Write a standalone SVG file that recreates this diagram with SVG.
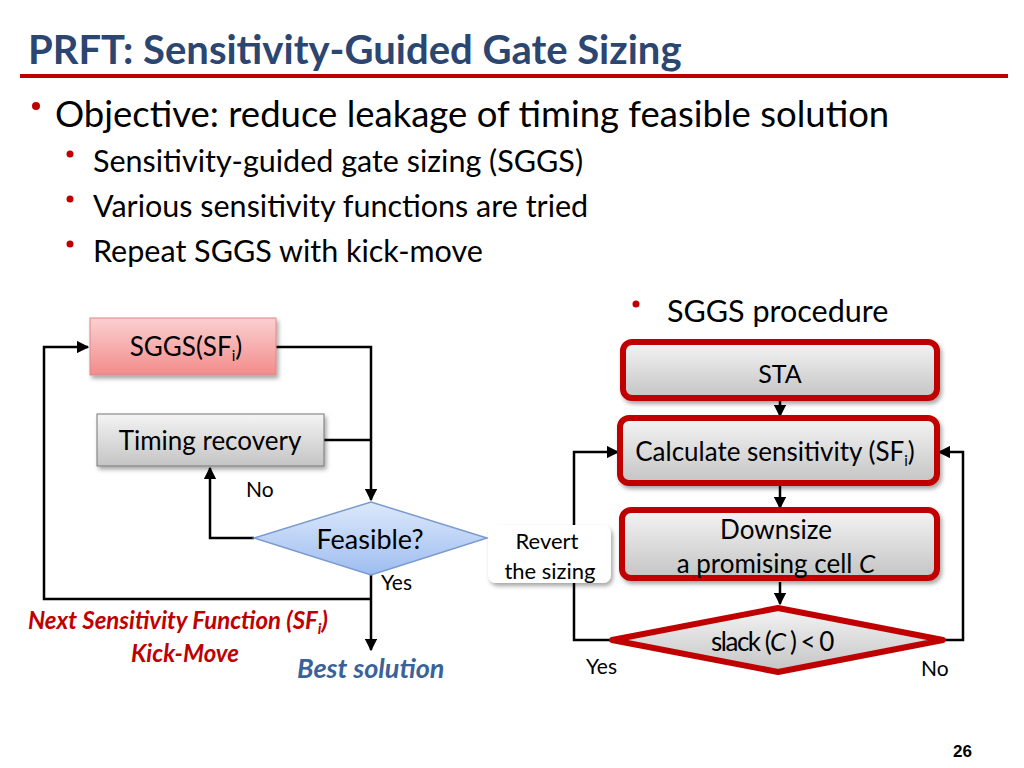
<svg xmlns="http://www.w3.org/2000/svg" width="1024" height="768" viewBox="0 0 1024 768">
<defs>
<linearGradient id="pink" x1="0" y1="0" x2="0" y2="1"><stop offset="0" stop-color="#fbd0d0"/><stop offset="1" stop-color="#f28b8b"/></linearGradient>
<linearGradient id="gray" x1="0" y1="0" x2="0" y2="1"><stop offset="0" stop-color="#f4f4f4"/><stop offset="1" stop-color="#c4c4c4"/></linearGradient>
<linearGradient id="blue" x1="0" y1="0" x2="0" y2="1"><stop offset="0" stop-color="#dde9fb"/><stop offset="1" stop-color="#9dbdf0"/></linearGradient>
<marker id="ar" viewBox="0 0 10 10" refX="9" refY="5" markerWidth="5" markerHeight="5" orient="auto"><path d="M0,0 L10,5 L0,10 z" fill="#000"/></marker>
<filter id="sh" x="-10%" y="-10%" width="130%" height="140%"><feDropShadow dx="2" dy="3" stdDeviation="2" flood-opacity="0.35"/></filter>
</defs>
<style>
text{font-family:Lato,"Open Sans","Liberation Sans",sans-serif;fill:#000}
.c{stroke:#000;stroke-width:2.5;fill:none}
.r{stroke:#c00000;stroke-width:6}
.lbl{font-size:21px}
.b{fill:#c00000}
</style>
<rect width="1024" height="768" fill="#fff"/>
<text x="28" y="64" font-size="40" font-weight="bold" style="fill:#2b4670">PRFT: Sensitivity-Guided Gate Sizing</text>
<rect x="20" y="74" width="988" height="4" fill="#c00000"/>
<circle cx="36" cy="106" r="4" fill="#c00000"/>
<text x="55" y="127" font-size="36.5">Objective: reduce leakage of timing feasible solution</text>
<g font-size="30.5">
<circle cx="70" cy="154" r="3.5" fill="#c00000"/><text x="93" y="172">Sensitivity-guided gate sizing (SGGS)</text>
<circle cx="70" cy="199" r="3.5" fill="#c00000"/><text x="93" y="217">Various sensitivity functions are tried</text>
<circle cx="70" cy="244" r="3.5" fill="#c00000"/><text x="93" y="262">Repeat SGGS with kick-move</text>
<circle cx="636" cy="304" r="3.5" fill="#c00000"/><text x="667" y="322">SGGS procedure</text>
</g>
<g id="connectors">
<polyline class="c" points="276,347 371,347 371,500" marker-end="url(#ar)"/>
<line class="c" x1="324" y1="440" x2="371" y2="440"/>
<polyline class="c" points="254,538 210,538 210,468" marker-end="url(#ar)"/>
<line class="c" x1="371" y1="575" x2="371" y2="650" marker-end="url(#ar)"/>
<polyline class="c" points="371,599 44,599 44,347 88,347" marker-end="url(#ar)"/>
<line class="c" x1="780" y1="400" x2="780" y2="416" marker-end="url(#ar)"/>
<line class="c" x1="780" y1="485" x2="780" y2="508" marker-end="url(#ar)"/>
<line class="c" x1="780" y1="582" x2="780" y2="604" marker-end="url(#ar)"/>
<polyline class="c" points="612,640 574,640 574,452 618,452" marker-end="url(#ar)"/>
<polyline class="c" points="943,640 963,640 963,452 939,452" marker-end="url(#ar)"/>
</g>
<g id="sggs"><rect x="90" y="318" width="186" height="57" fill="url(#pink)" stroke="#d88" filter="url(#sh)"/><text x="186" y="356" font-size="26" text-anchor="middle">SGGS(SF<tspan font-size="15" dy="5">i</tspan><tspan dy="-5">)</tspan></text></g>
<g id="timing"><rect x="97" y="414" width="227" height="52" fill="url(#gray)" stroke="#777" filter="url(#sh)"/><text x="210" y="450" font-size="26" text-anchor="middle">Timing recovery</text></g>
<g id="feasible"><polygon points="254,538 371,502 487,538 371,575" fill="url(#blue)" stroke="#7a9ad0" stroke-width="1.5"/><text x="370" y="549" font-size="27" text-anchor="middle">Feasible?</text></g>
<text x="246" y="497" class="lbl">No</text>
<text x="381" y="590" class="lbl">Yes</text>
<text x="28" y="629" font-size="24" font-weight="bold" font-style="italic" class="b">Next Sensitivity Function (SF<tspan font-size="15" dy="5">i</tspan><tspan dy="-5">)</tspan></text>
<text x="185" y="662" font-size="24" font-weight="bold" font-style="italic" text-anchor="middle" class="b">Kick-Move</text>
<text x="297" y="678" font-size="27" font-weight="bold" font-style="italic" style="fill:#3a629a">Best solution</text>
<g id="sta"><rect x="623" y="342" width="314" height="56" rx="9" fill="url(#gray)" class="r" filter="url(#sh)"/><text x="780" y="383" font-size="25" text-anchor="middle">STA</text></g>
<g id="calc"><rect x="620" y="418" width="317" height="65" rx="9" fill="url(#gray)" class="r" filter="url(#sh)"/><text x="775" y="461" font-size="26" text-anchor="middle">Calculate sensitivity (SF<tspan font-size="15" dy="5">i</tspan><tspan dy="-5">)</tspan></text></g>
<g id="downsize"><rect x="622" y="510" width="315" height="68" rx="9" fill="url(#gray)" class="r" filter="url(#sh)"/><text x="776" y="539" font-size="26" text-anchor="middle">Downsize</text><text x="776" y="573" font-size="26" text-anchor="middle">a promising cell <tspan font-style="italic">C</tspan></text></g>
<g id="slack"><polygon points="612,640 778,608 943,640 778,672" fill="url(#gray)" class="r" stroke-linejoin="round"/><text x="772" y="651" font-size="26" text-anchor="middle" letter-spacing="-1.5">slack (<tspan font-style="italic">C</tspan> ) &lt; 0</text></g>
<g id="revert"><rect x="488" y="525" width="123" height="58" rx="8" fill="#fff" filter="url(#sh)"/><text x="547" y="549" font-size="22" text-anchor="middle">Revert</text><text x="550" y="579" font-size="22" text-anchor="middle">the sizing</text></g>
<text x="586" y="674" class="lbl">Yes</text>
<text x="921" y="676" class="lbl">No</text>
<text x="972" y="757" font-size="17" font-weight="bold" text-anchor="end" style="font-family:'Liberation Sans',sans-serif">26</text>
</svg>
